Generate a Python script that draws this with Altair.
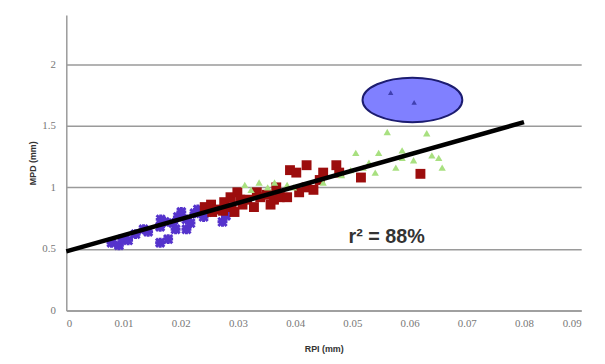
import altair as alt
import pandas as pd

# Series values (RPI in mm, MPD in mm)
blue_x = [0.0079, 0.0092, 0.0098, 0.0108, 0.0121, 0.0135, 0.0143, 0.0164, 0.0165, 0.0164,
          0.0178, 0.0172, 0.0187, 0.0191, 0.0195, 0.0201, 0.0210, 0.0210, 0.0217, 0.0224,
          0.0230, 0.0240, 0.0247, 0.0273, 0.0279]
blue_y = [0.55, 0.53, 0.58, 0.57, 0.62, 0.66, 0.64, 0.68, 0.74, 0.55,
          0.58, 0.72, 0.71, 0.66, 0.76, 0.80, 0.74, 0.66, 0.71, 0.79,
          0.82, 0.76, 0.80, 0.72, 0.77]

red_x = [0.0242, 0.0253, 0.0255, 0.0264, 0.0274, 0.0276, 0.0287, 0.0289, 0.0294, 0.0299,
         0.0304, 0.0308, 0.0316, 0.0328, 0.0333, 0.0339, 0.0350, 0.0357, 0.0363, 0.0367,
         0.0373, 0.0386, 0.0391, 0.0402, 0.0407, 0.0420, 0.0420, 0.0432, 0.0443, 0.0449,
         0.0472, 0.0477, 0.0515, 0.0619]
red_y = [0.84, 0.86, 0.80, 0.82, 0.81, 0.88, 0.92, 0.84, 0.80, 0.96,
         0.90, 0.86, 0.90, 0.84, 0.96, 0.92, 0.94, 0.86, 0.90, 1.00,
         0.92, 0.92, 1.14, 1.12, 0.96, 1.18, 1.00, 0.98, 1.06, 1.12,
         1.18, 1.12, 1.08, 1.11]

green_x = [0.0312, 0.0323, 0.0337, 0.0352, 0.0364, 0.0386, 0.0397, 0.0449, 0.0481, 0.0497,
           0.0506, 0.0519, 0.0529, 0.0540, 0.0546, 0.0561, 0.0576, 0.0587, 0.0587, 0.0607,
           0.0630, 0.0639, 0.0651, 0.0657]
green_y = [1.02, 0.98, 1.04, 1.00, 1.04, 1.02, 1.00, 1.04, 1.10, 1.14,
           1.28, 1.16, 1.20, 1.12, 1.28, 1.45, 1.16, 1.24, 1.30, 1.22,
           1.44, 1.26, 1.24, 1.16]

outlier_x = [0.0567, 0.0608]
outlier_y = [1.77, 1.69]

trend_x = [0.0, 0.08]
trend_y = [0.48, 1.53]

ellipse_x = [0.0605]
ellipse_y = [1.71]

x_ticks = [0, 0.01, 0.02, 0.03, 0.04, 0.05, 0.06, 0.07, 0.08, 0.09]
y_ticks = [0, 0.5, 1, 1.5, 2]

annotation = "r\u00b2 = 88%"
ann_x = [0.056]
ann_y = [0.60]

xscale = alt.Scale(domain=[0, 0.09], nice=False, zero=False)
yscale = alt.Scale(domain=[0, 2.4], nice=False, zero=False)

xaxis = alt.Axis(values=x_ticks, labelExpr="datum.value == 0 ? '0' : format(datum.value, '.2f')",
                 grid=False, ticks=False, domainColor="#9a9a9a", domainWidth=1.5,
                 labelColor="#777777", labelFont="Liberation Serif", labelFontSize=11,
                 labelPadding=7, title="RPI (mm)", titleFont="Liberation Sans",
                 titleFontSize=9, titleFontWeight="bold", titleColor="#333333", titlePadding=17)
yaxis = alt.Axis(values=y_ticks, labelExpr="format(datum.value, '~g')",
                 grid=True, gridColor="#9a9a9a", gridWidth=1.5, ticks=False,
                 domainColor="#9a9a9a", domainWidth=1.5,
                 labelColor="#777777", labelFont="Liberation Serif", labelFontSize=11,
                 labelPadding=11, title="MPD (mm)", titleFont="Liberation Sans",
                 titleFontSize=9, titleFontWeight="bold", titleColor="#333333", titlePadding=4)

blue_df = pd.DataFrame({"x": blue_x, "y": blue_y})
red_df = pd.DataFrame({"x": red_x, "y": red_y})
green_df = pd.DataFrame({"x": green_x, "y": green_y})
out_df = pd.DataFrame({"x": outlier_x, "y": outlier_y})
trend_df = pd.DataFrame({"x": trend_x, "y": trend_y})
ell_df = pd.DataFrame({"x": ellipse_x, "y": ellipse_y})
ann_df = pd.DataFrame({"x": ann_x, "y": ann_y, "t": [annotation]})

base_axes = alt.Chart(trend_df).mark_line(opacity=0).encode(
    x=alt.X("x:Q", scale=xscale, axis=xaxis),
    y=alt.Y("y:Q", scale=yscale, axis=yaxis),
)

star_path = "M-1,-1L1,1M-1,1L1,-1M0,-1.2L0,1.2M-1.2,0L1.2,0"
blue = alt.Chart(blue_df).mark_point(shape=star_path, filled=False, color="#5533cc",
                                     strokeWidth=3, size=70, opacity=1).encode(
    x=alt.X("x:Q", scale=xscale), y=alt.Y("y:Q", scale=yscale))

red = alt.Chart(red_df).mark_point(shape="square", filled=True, color="#9c0d0d",
                                   size=100, opacity=1).encode(
    x=alt.X("x:Q", scale=xscale), y=alt.Y("y:Q", scale=yscale))

green = alt.Chart(green_df).mark_point(shape="triangle-up", filled=True, color="#a8e080",
                                       size=55, opacity=1).encode(
    x=alt.X("x:Q", scale=xscale), y=alt.Y("y:Q", scale=yscale))

trend = alt.Chart(trend_df).mark_line(color="black", strokeWidth=4.5).encode(
    x=alt.X("x:Q", scale=xscale), y=alt.Y("y:Q", scale=yscale))

ellipse_path = "M-1,0A1,0.445,0,1,1,1,0A1,0.445,0,1,1,-1,0Z"
ellipse = alt.Chart(ell_df).mark_point(shape=ellipse_path, filled=True, fill="#8080ff",
                                       stroke="#1c1c70", strokeWidth=2, size=10200,
                                       opacity=1, fillOpacity=1).encode(
    x=alt.X("x:Q", scale=xscale), y=alt.Y("y:Q", scale=yscale))

outl = alt.Chart(out_df).mark_point(shape="triangle-up", filled=True, color="#4040b0",
                                    size=30, opacity=1).encode(
    x=alt.X("x:Q", scale=xscale), y=alt.Y("y:Q", scale=yscale))

ann = alt.Chart(ann_df).mark_text(fontSize=20, fontWeight="bold", font="Liberation Sans",
                                  color="#333333", align="center", baseline="middle").encode(
    x=alt.X("x:Q", scale=xscale), y=alt.Y("y:Q", scale=yscale), text="t:N")

chart = alt.layer(base_axes, blue, red, green, trend, ellipse, outl, ann).properties(
    width=521, height=299,
    background="white",
    autosize=alt.AutoSizeParams(type="none"),
    padding={"left": 59, "top": 5, "right": 16, "bottom": 48},
).configure_view(stroke=None)

chart.save("out.html", embed_options={"renderer": "svg", "actions": False})
